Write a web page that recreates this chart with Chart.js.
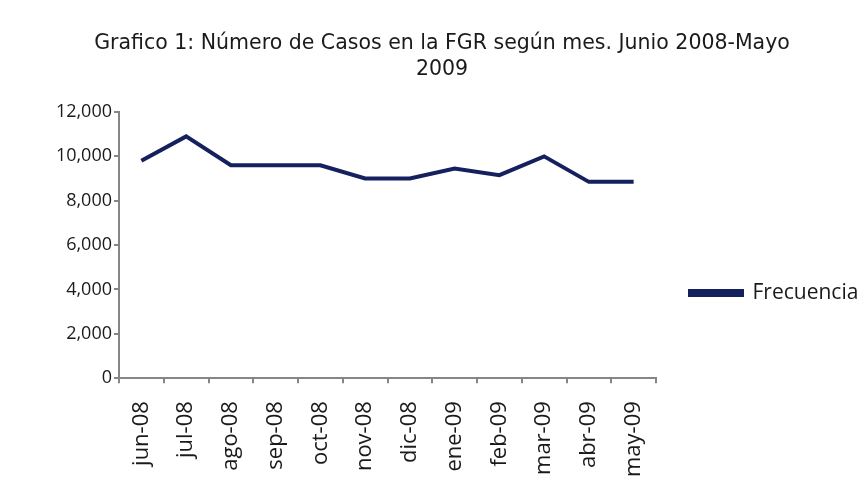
<!DOCTYPE html>
<html>
<head>
<meta charset="utf-8">
<script src="https://cdn.jsdelivr.net/npm/chart.js@4"></script>
<style>
  html, body { margin: 0; padding: 0; background: #fff; }
</style>
</head>
<body>
<canvas id="casosChart" width="864" height="499"></canvas>
<script>
const meses = ["jun-08", "jul-08", "ago-08", "sep-08", "oct-08", "nov-08", "dic-08", "ene-09", "feb-09", "mar-09", "abr-09", "may-09"];
const frecuencia = [9800, 10900, 9600, 9600, 9600, 9000, 9000, 9450, 9150, 10000, 8850, 8850];
const yTicks = [0, 2000, 4000, 6000, 8000, 10000, 12000];

const navy = "#15215f";
const axisGray = "#868686";

const ctx = document.getElementById("casosChart").getContext("2d");
const casosChart = new Chart(ctx, {
  type: "line",
  data: {
    labels: meses,
    datasets: [
      {
        label: "Frecuencia",
        data: frecuencia,
        borderColor: navy,
        backgroundColor: navy,
        borderWidth: 4,
        pointRadius: 0,
        tension: 0,
      },
    ],
  },
  options: {
    responsive: false,
    animation: false,
    layout: { padding: { top: 31, right: 0, bottom: 4, left: 20 } },
    plugins: {
      title: {
        display: true,
        text: ["Grafico 1: Número de Casos en la FGR según mes. Junio 2008-Mayo", "2009"],
        color: "#1a1a1a",
        font: { family: "DejaVu Sans", size: 20.5, weight: "normal", lineHeight: "26px" },
        padding: { top: 0, bottom: 29 },
      },
      legend: {
        position: "right",
        align: "start",
        maxWidth: 208,
        // empty legend title only pushes the entry down next to the 4,000 tick
        title: { display: true, text: "", padding: { top: 0, bottom: 203 } },
        labels: {
          color: "#1a1a1a",
          font: { family: "Open Sans", size: 21 },
          boxWidth: 52,
          boxHeight: 4,
          padding: 34,
        },
      },
      tooltip: { enabled: false },
    },
    scales: {
      x: {
        offset: true,
        grid: {
          offset: true,
          drawOnChartArea: false,
          color: axisGray,
          lineWidth: 2,
          tickLength: 5,
        },
        border: { color: axisGray, width: 2 },
        ticks: {
          color: "#1a1a1a",
          font: { family: "Open Sans", size: 22 },
          minRotation: 90,
          maxRotation: 90,
          padding: 18,
        },
      },
      y: {
        min: 0,
        max: 12000,
        afterBuildTicks: (axis) => {
          axis.ticks = yTicks.map((v) => ({ value: v }));
        },
        afterFit: (axis) => {
          axis.width = 99;
        },
        grid: {
          drawOnChartArea: false,
          color: axisGray,
          lineWidth: 2,
          tickLength: 5,
        },
        border: { color: axisGray, width: 2 },
        ticks: {
          color: "#1a1a1a",
          font: { family: "Open Sans", size: 18 },
          padding: 2,
          callback: (v) => v.toLocaleString("en-US"),
        },
      },
    },
  },
});
</script>
</body>
</html>
